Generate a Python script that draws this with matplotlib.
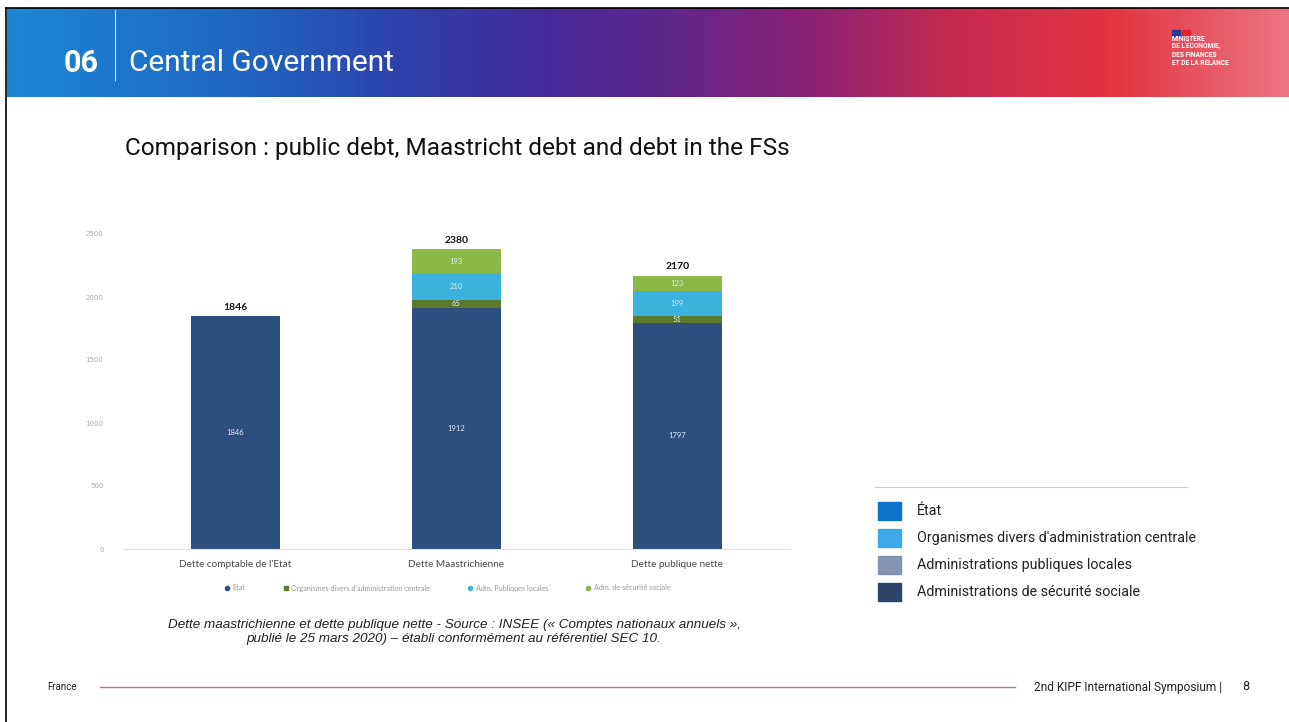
import matplotlib.pyplot as plt
import numpy as np
from matplotlib.colors import LinearSegmentedColormap
from matplotlib.lines import Line2D
from matplotlib.patches import Rectangle

# Data (Md€), stacked bottom -> top
categories = ["Dette comptable de l'Etat", "Dette Maastrichienne", "Dette publique nette"]
etat = [1846, 1912, 1797]
odac = [0, 65, 51]
apul = [0, 210, 199]
asso = [0, 193, 123]
series_names = ["Etat", "Organismes divers d'administration centrale",
                "Adm. Publiques locales", "Adm. de sécurité sociale"]
series_colors = ["#2d4f7e", "#5b7a2a", "#3cb2de", "#8cb847"]
yticks = [0, 500, 1000, 1500, 2000, 2500]

legend_labels = ["État", "Organismes divers d'administration centrale",
                 "Administrations publiques locales", "Administrations de sécurité sociale"]
legend_colors = ["#0b73c9", "#3caaea", "#8294b1", "#2c4466"]

W, H = 1289, 722
fig = plt.figure(figsize=(W / 100, H / 100), dpi=100)
fig.patch.set_facecolor("white")


def fx(px):
    return px / W


def fy(py):
    return 1 - py / H


# header band with gradient
head = fig.add_axes([fx(7), fy(97), 1 - fx(7), (97 - 8) / H])
grad = LinearSegmentedColormap.from_list("hdr", [
    (0.0, "#1c87d6"), (0.18, "#1f66c2"), (0.32, "#2f3fa8"), (0.42, "#44299a"),
    (0.52, "#612689"), (0.63, "#8e2274"), (0.74, "#c62a4f"), (0.86, "#e2343f"),
    (1.0, "#ec7482")], N=1024)
head.imshow(np.linspace(0, 1, 1289)[None, :], aspect="auto", cmap=grad,
            extent=[0, 1, 0, 1], interpolation="bilinear")
head.set_axis_off()

fig.text(fx(64), fy(63), "06", color="white", fontsize=22, fontweight="bold",
         family="Roboto", va="center")
fig.add_artist(Line2D([fx(115), fx(115)], [fy(10), fy(80)], color="white", lw=0.8, alpha=0.8))
fig.text(fx(129), fy(63), "Central Government", color="white", fontsize=21.5,
         family="Roboto", va="center")
fig.text(fx(1172), fy(51), "MINISTÈRE\nDE L'ÉCONOMIE,\nDES FINANCES\nET DE LA RELANCE",
         color="white", fontsize=4.8, fontweight="bold", family="Roboto",
         va="center", linespacing=0.95)
fig.add_artist(Rectangle((fx(1172), fy(36)), fx(8), 6 / H, color="#2a3a9a"))
fig.add_artist(Rectangle((fx(1182), fy(36)), fx(8), 6 / H, color="#e8202a"))

# frame lines
fig.add_artist(Line2D([fx(6), fx(6)], [0, fy(8)], color="black", lw=1.2))
fig.add_artist(Line2D([fx(6), 1], [fy(8), fy(8)], color="black", lw=1.2))

fig.text(fx(125), fy(148), "Comparison : public debt, Maastricht debt and debt in the FSs",
         fontsize=17.6, family="Roboto", color="#111111", va="center")

# chart
ax = fig.add_axes([fx(123), fy(549), fx(790 - 123), (549 - 234) / H])
x = np.arange(len(categories))
bottom = np.zeros(len(categories))
for vals, name, col in zip([etat, odac, apul, asso], series_names, series_colors):
    vals = np.array(vals, dtype=float)
    ax.bar(x, vals, 0.4, bottom=bottom, color=col, label=name, zorder=2)
    for xi, v, b in zip(x, vals, bottom):
        if v > 0:
            ax.text(xi, b + v / 2, f"{v:.0f}", ha="center", va="center",
                    fontsize=5.5, color="#dde8f0", family="Lato")
    bottom += vals

for xi, tot in zip(x, bottom):
    ax.text(xi, tot + 35, f"{tot:.0f}", ha="center", va="bottom", fontsize=7.5,
            fontweight="bold", color="#111111", family="Lato")

ax.set_xlim(-0.51, 2.51)
ax.set_ylim(0, 2500)
ax.set_yticks(yticks)
ax.set_yticklabels([str(t) for t in yticks], fontsize=5, color="#aaaaaa")
ax.tick_params(axis="y", length=0, pad=14)
ax.tick_params(axis="x", length=0, pad=8)
ax.set_xticks(x)
ax.set_xticklabels(categories, fontsize=7.2, color="#4a4a4a", family="Lato")
for s in ["top", "right", "left"]:
    ax.spines[s].set_visible(False)
ax.spines["bottom"].set_color("#e0e0e0")
ax.set_facecolor("none")

handles = [Line2D([], [], marker="o" if i != 1 else "s", ls="", color=c, markersize=3)
           for i, c in enumerate(series_colors)]
fig.legend(handles, series_names, loc="center", bbox_to_anchor=(fx(447), fy(588)), ncol=4,
           frameon=False, prop={"family": "Lato", "size": 5.2}, labelcolor="#999999",
           handletextpad=0.3, columnspacing=5.0, handlelength=1)

fig.text(fx(454), fy(632),
         "Dette maastrichienne et dette publique nette - Source : INSEE (« Comptes nationaux annuels »,\n"
         "publié le 25 mars 2020) – établi conformément au référentiel SEC 10.",
         fontsize=9.7, style="italic", family="Liberation Sans", color="#222222",
         ha="center", va="center", linespacing=1.15)

# right legend
fig.add_artist(Line2D([fx(875), fx(1187)], [fy(487), fy(487)], color="#cccccc", lw=0.8))
for i, (lab, col) in enumerate(zip(legend_labels, legend_colors)):
    yc = 511 + 27 * i
    fig.add_artist(Rectangle((fx(878), fy(yc + 9)), fx(23), 18 / H, color=col))
    fig.text(fx(917), fy(yc), lab, fontsize=10.3, family="Roboto", color="#222222", va="center")

# footer
fig.text(fx(47), fy(687), "France", fontsize=7, family="Roboto", color="#222222", va="center")
fig.add_artist(Line2D([fx(100), fx(1015)], [fy(687), fy(687)], color="#d36a8a", lw=1))
fig.text(fx(1222), fy(687), "2nd KIPF International Symposium |", fontsize=8.6,
         family="Roboto", color="#222222", va="center", ha="right")
fig.text(fx(1242), fy(687), "8", fontsize=9, family="Roboto", color="#222222", va="center")

fig.savefig("out.png", dpi=100)
